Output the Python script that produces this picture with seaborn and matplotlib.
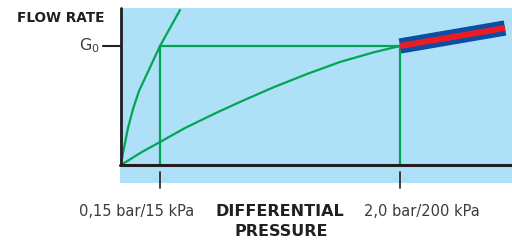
import seaborn as sns
import matplotlib.pyplot as plt
import pandas as pd

# schematic coordinates (origin = axes corner)
steep_x = [0, 2, 4, 7, 12, 18, 25, 32, 39, 49, 59]
steep_y = [0, 12, 22, 37, 56, 74, 89, 104, 119, 137, 155]
shallow_x = [0, 20, 39, 64, 97, 120, 152, 186, 219, 252, 279]
shallow_y = [0, 12.5, 23, 37, 53, 63.5, 77.5, 91, 103, 112.5, 119]
g0 = 119
tick_pos = [39, 279]
tick_labels = ['0,15 bar/15 kPa', '2,0 bar/200 kPa']
band_x = [279, 384]
band_y = [119, 137]

green = '#00A651'
dark = '#231F20'
grey = '#3C3C3C'

sns.set_style('white')
plt.rcParams['font.family'] = ['DejaVu Sans']
plt.rcParams['mathtext.default'] = 'regular'

fig = plt.figure(figsize=(5.12, 2.42), dpi=100)
ax = fig.add_axes([120 / 512, 59 / 242, 392 / 512, 175 / 242])
ax.set_facecolor('#AEE0F8')
ax.set_xlim(-1, 391)
ax.set_ylim(-18, 157)
for s in ax.spines.values():
    s.set_visible(False)
ax.set_xticks([])
ax.set_yticks([])

dfSteep = pd.DataFrame({'x': steep_x, 'y': steep_y})
dfShallow = pd.DataFrame({'x': shallow_x, 'y': shallow_y})
sns.lineplot(data=dfSteep, x='x', y='y', sort=False, color=green, lw=1.6, ax=ax)
sns.lineplot(data=dfShallow, x='x', y='y', sort=False, color=green, lw=1.6, ax=ax)

# G0 guide box
ax.plot([tick_pos[0], tick_pos[0], tick_pos[1], tick_pos[1]], [0, g0, g0, 0], color=green, lw=1.6)

# operating band
ax.plot(band_x, band_y, color='#0B4EA2', lw=11, solid_capstyle='butt')
ax.plot(band_x, band_y, color='#ED1C24', lw=4.3, solid_capstyle='butt')

# axes lines
ax.plot([0, 0], [0, 157], color=dark, lw=2, clip_on=False)
ax.plot([-1, 391], [0, 0], color=dark, lw=2.2, clip_on=False)
ax.plot([-18, 0], [g0, g0], color=dark, lw=1.5, clip_on=False)
for p in tick_pos:
    ax.plot([p, p], [-7, -23], color=dark, lw=1.2, clip_on=False)

bold = dict(fontweight='heavy', color=dark)
ax.text(-21, g0, 'G$_0$', ha='right', va='center', fontsize=11.5, color=grey)
fig.text(17 / 512, 1 - 18 / 242, 'FLOW RATE', ha='left', va='center', fontsize=9.8, **bold)
fig.text(137 / 512, 1 - 211 / 242, tick_labels[0], ha='center', va='center',
         fontsize=10.5, color=grey)
fig.text(422 / 512, 1 - 211 / 242, tick_labels[1], ha='center', va='center',
         fontsize=10.5, color=grey)
fig.text(280 / 512, 1 - 211 / 242, 'DIFFERENTIAL', ha='center', va='center', fontsize=11.5, **bold)
fig.text(281 / 512, 1 - 232 / 242, 'PRESSURE', ha='center', va='center', fontsize=11.5, **bold)

plt.savefig('out.png', dpi=100)
